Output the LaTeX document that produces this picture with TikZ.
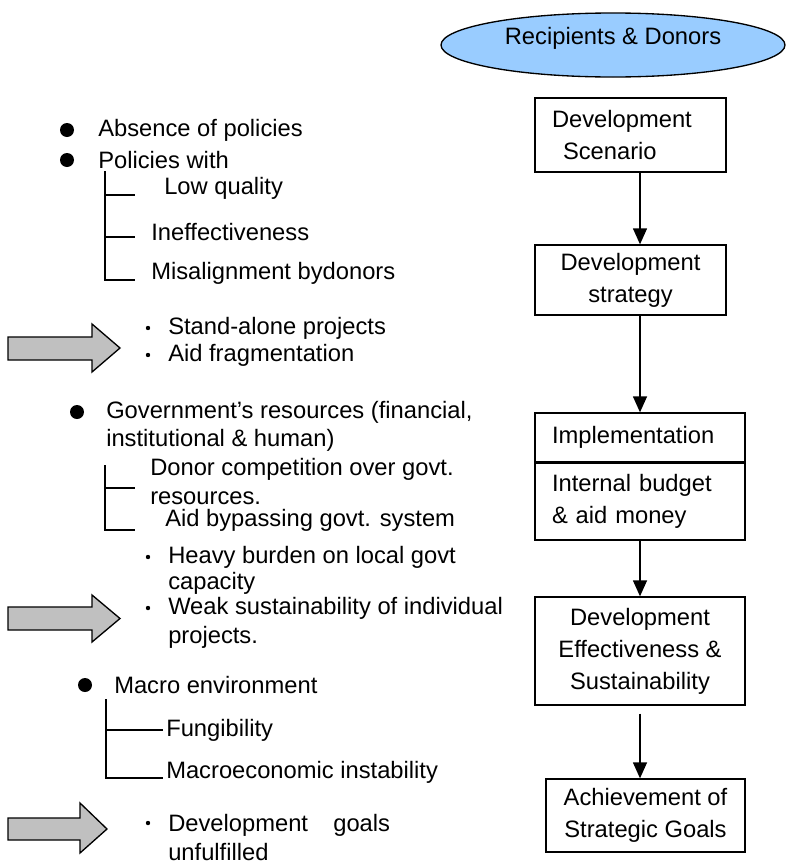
\documentclass[tikz,border=0pt]{standalone}
\usepackage{fontspec}
\setmainfont{Liberation Sans}
\usetikzlibrary{arrows.meta}

\begin{document}
\begin{tikzpicture}[x=0.75pt,y=0.75pt,yscale=-1,xscale=1,
    every node/.style={font=\fontsize{17.8}{24}\selectfont},
    stepbox/.style={draw,line width=1pt,inner sep=0pt,align=center},
    flow/.style={line width=1pt,-{Triangle[length=12pt,width=10.5pt]}},
    bracket/.style={line width=1pt},
    bigarrow/.style={draw,line width=1pt,fill={rgb, 255:red, 192; green, 192; blue, 192 }}]
                            \useasboundingbox (0,0) rectangle (786,864);
                            \draw [line width=1pt,fill={rgb, 255:red, 153; green, 204; blue, 255 }] (613,45) ellipse [x radius=172, y radius=32];
                            \draw (613,38) node (actors) [inner sep=0.75pt] {Recipients \& Donors};
                            \draw (630.5,135) node (scenario) [stepbox,minimum width=143.25pt,minimum height=55.5pt,align=left,text width=117.75pt,inner xsep=12.75pt] {Development\\\hspace*{8.25pt}Scenario};
                            \draw (630.5,280) node (strategy) [stepbox,minimum width=143.25pt,minimum height=52.5pt] {Development\\strategy};
                            \draw (640,437.5) node (implement) [stepbox,minimum width=157.5pt,minimum height=36.75pt,align=left,text width=132pt,inner xsep=12.75pt] {Implementation};
                            \draw (640,501.5) node (budget) [stepbox,minimum width=157.5pt,minimum height=57.75pt,align=left,text width=132pt,inner xsep=12.75pt] {Internal budget\\\& aid money};
                            \draw (640,651) node (effect) [stepbox,minimum width=157.5pt,minimum height=81pt] {Development\\Effectiveness \&\\Sustainability};
                            \draw (645.5,815.5) node (achieve) [stepbox,minimum width=149.25pt,minimum height=54.75pt] {Achievement of\\Strategic Goals};
                            \draw [flow] (scenario.south -| budget) -- (strategy.north -| budget);
                            \draw [flow] (strategy.south -| budget) -- (implement.north -| budget);
                            \draw [flow] (budget.south -| budget) -- (effect.north -| budget);
                            \draw [flow,shorten <=6pt] (effect.south -| budget) -- (achieve.north -| budget);
                            \fill (67,130) circle [radius=7];
                            \draw (97,130) node (absence) [anchor=west][inner sep=0.75pt] {Absence of policies};
                            \fill (67,160) circle [radius=7];
                            \draw (97,160) node (policies) [anchor=west][inner sep=0.75pt] {Policies with};
                            \draw [bracket] (105,171) -- (105,280) -- (135,280) (105,195) -- (135,195) (105,237) -- (135,237);
                            \draw (163,188) node (lowq) [anchor=west][inner sep=0.75pt] {Low quality};
                            \draw (150,232) node (ineff) [anchor=west][inner sep=0.75pt] {Ineffectiveness};
                            \draw (150,273) node (misalign) [anchor=west][inner sep=0.75pt] {Misalignment bydonors};
                            \draw [bigarrow] (8,337) -- (92,337) -- (92,324) -- (120,348) -- (92,372) -- (92,360) -- (8,360) -- cycle;
                            \fill (148,328) circle [radius=2.2];
                            \draw (167,328) node (standalone) [anchor=west][inner sep=0.75pt] {Stand-alone projects};
                            \fill (148,355) circle [radius=2.2];
                            \draw (167,355) node (fragment) [anchor=west][inner sep=0.75pt] {Aid fragmentation};
                            \fill (77,412) circle [radius=7];
                            \draw (105,426) node (govres) [anchor=west][inner sep=0.75pt] [align=left,font=\fontsize{17.8}{21}\selectfont] {Government’s resources (financial,\\institutional \& human)};
                            \draw [bracket] (105,465) -- (105,530) -- (135,530) (105,488) -- (135,488);
                            \draw (150,482) node (donorcomp) [anchor=west][inner sep=0pt] [align=left,font=\fontsize{17.8}{21.75}\selectfont] {Donor competition over govt.\\resources.};
                            \draw (165,520) node (bypass) [anchor=west][inner sep=0pt] {Aid bypassing govt. system};
                            \fill (148,557) circle [radius=2.2];
                            \draw (167,570) node (burden) [anchor=west][inner sep=0.75pt] [align=left,font=\fontsize{17.8}{19.5}\selectfont] {Heavy burden on local govt\\capacity};
                            \draw [bigarrow] (8,607) -- (92,607) -- (92,595) -- (120,618.5) -- (92,642) -- (92,630) -- (8,630) -- cycle;
                            \fill (148,608) circle [radius=2.2];
                            \draw (167,622.5) node (weaksus) [anchor=west][inner sep=0.75pt] [align=left,font=\fontsize{17.8}{21.75}\selectfont] {Weak sustainability of individual\\projects.};
                            \fill (85,685) circle [radius=7];
                            \draw (113,685) node (macroenv) [anchor=west][inner sep=0.75pt] {Macro environment};
                            \draw [bracket] (106,699) -- (106,778) -- (163,778) (106,730) -- (163,730);
                            \draw (165,730) node (fungib) [anchor=west][inner sep=0.75pt] {Fungibility};
                            \draw (165,772) node (instab) [anchor=west][inner sep=0.75pt] {Macroeconomic instability};
                            \draw [bigarrow] (8,818) -- (80,818) -- (80,803) -- (107,829) -- (80,853) -- (80,840) -- (8,840) -- cycle;
                            \fill (148,823) circle [radius=2.2];
                            \draw (167,837.5) node (goals) [anchor=west][inner sep=0.75pt] [align=left,font=\fontsize{17.8}{21.75}\selectfont] {Development\hspace{14pt} goals\\unfulfilled};
                            \end{tikzpicture}
\end{document}
